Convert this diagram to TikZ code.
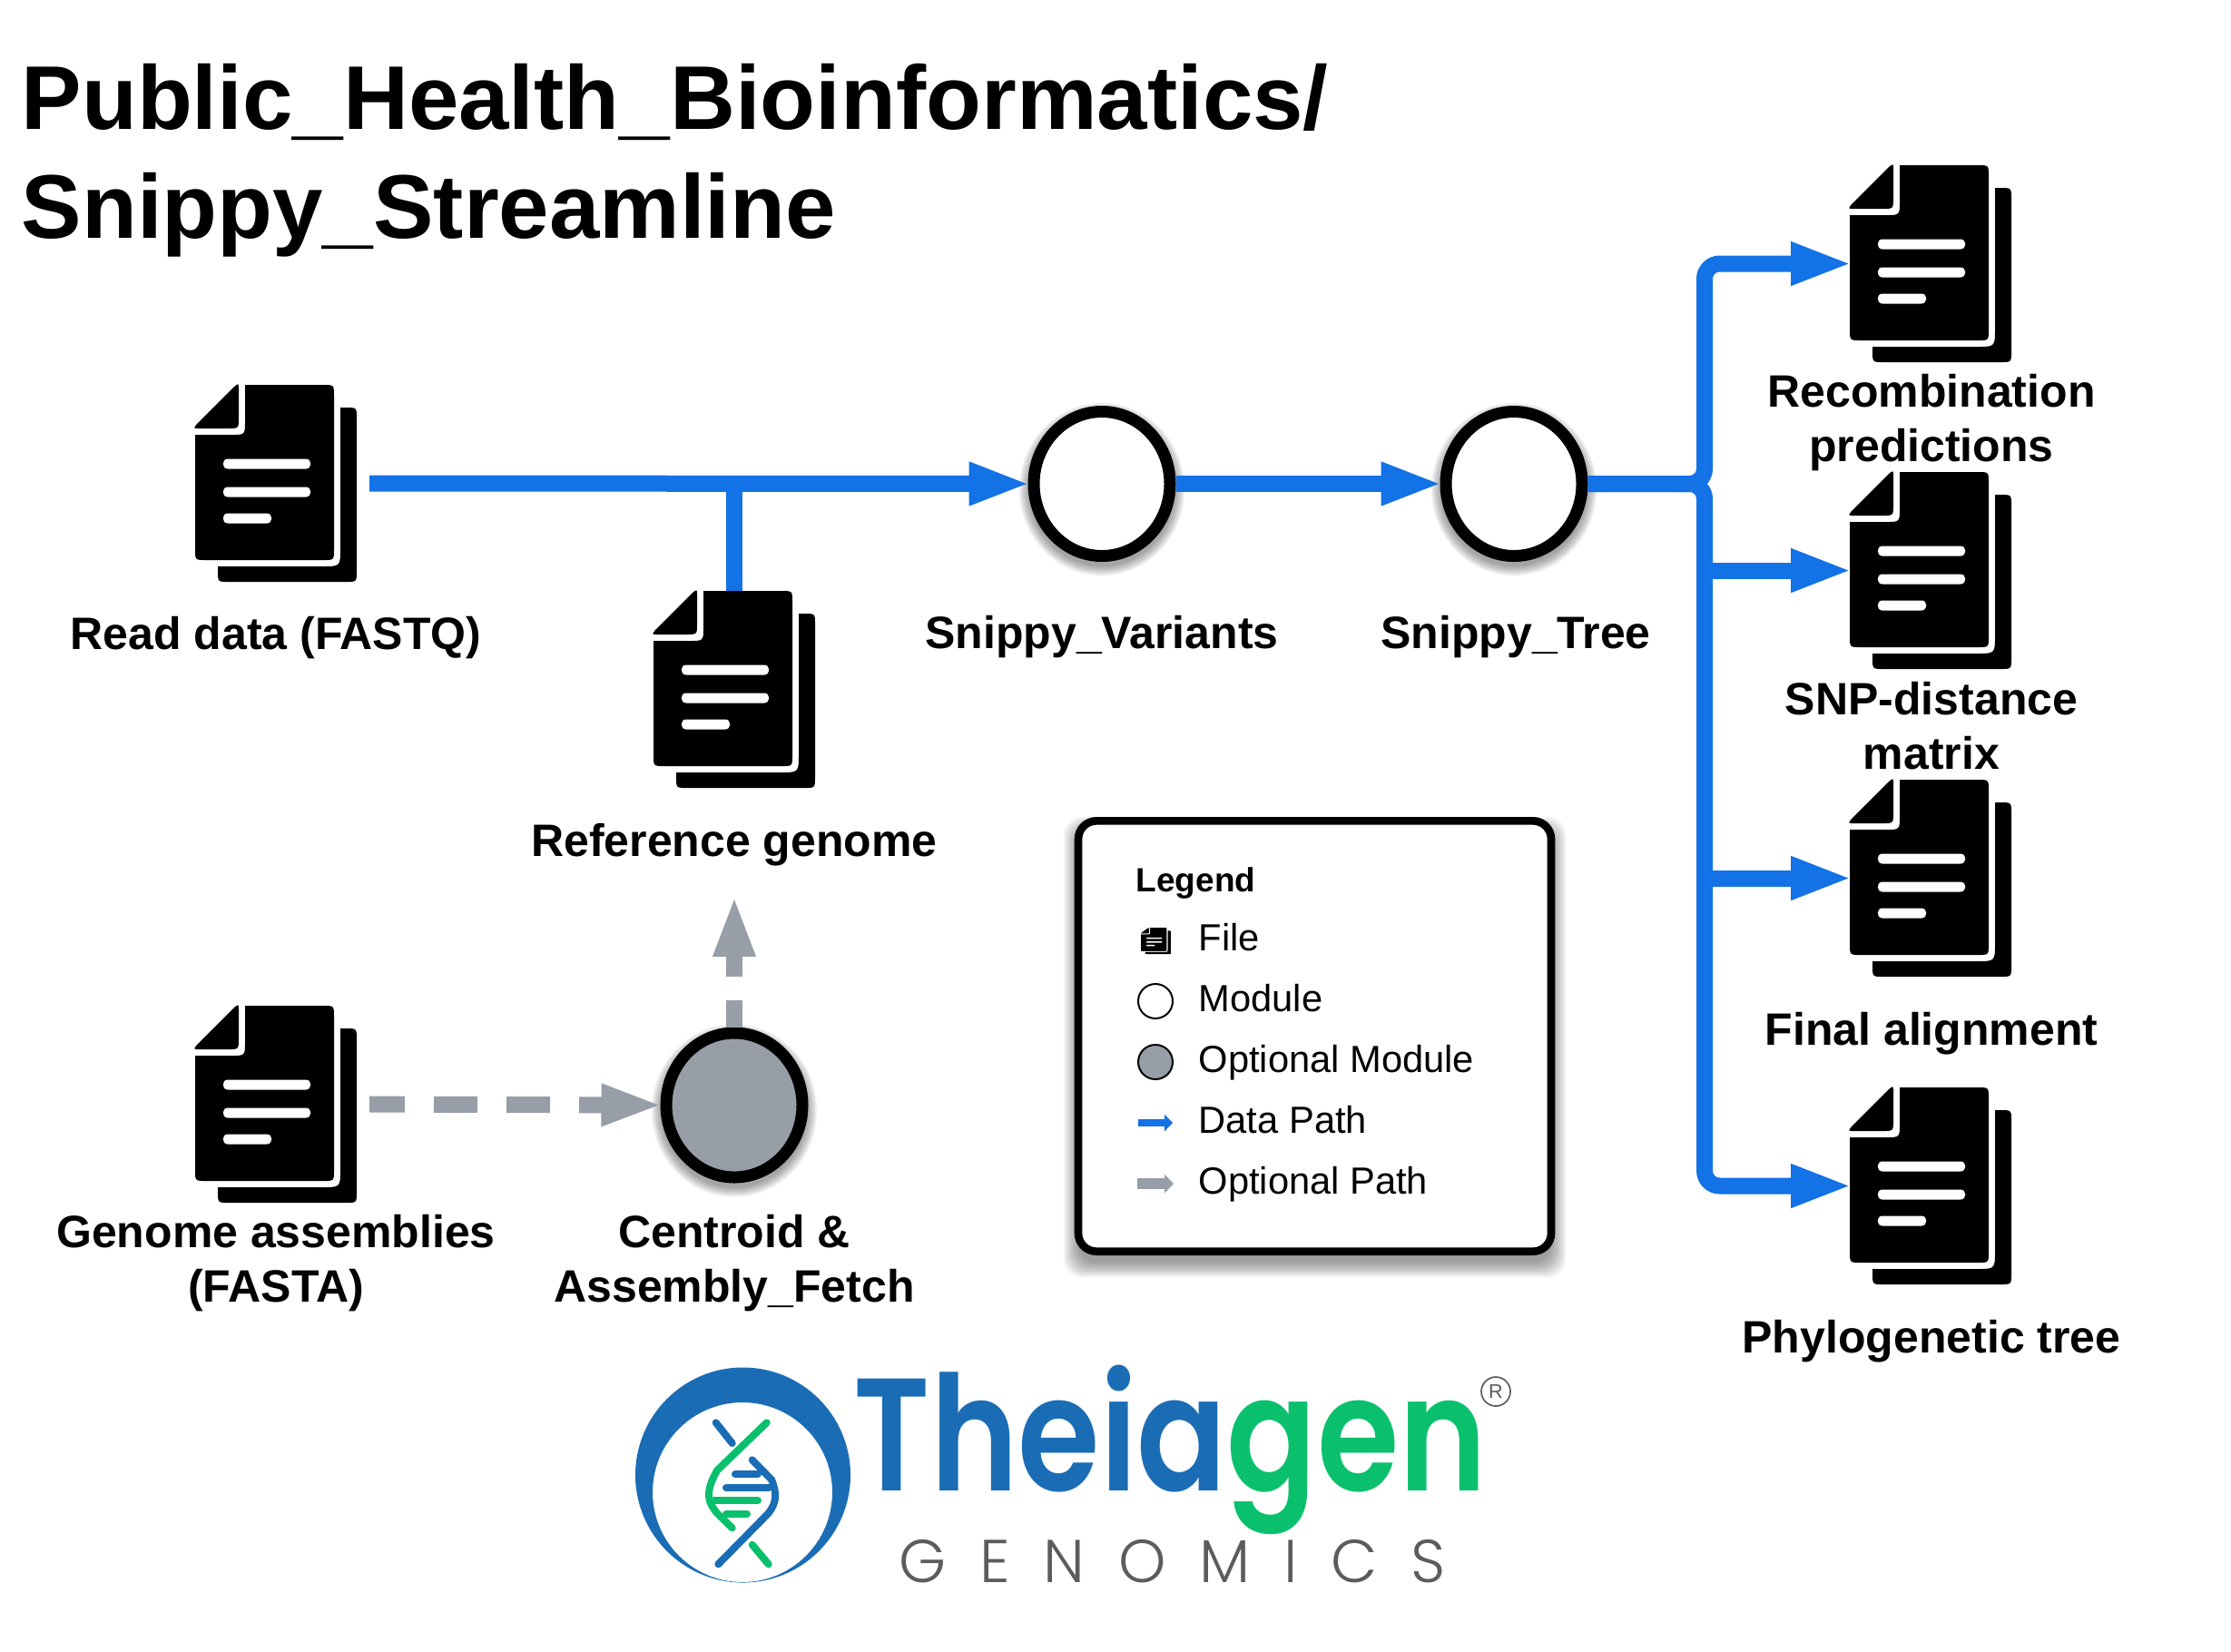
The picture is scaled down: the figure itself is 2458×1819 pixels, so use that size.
\documentclass[tikz,border=0pt]{standalone}
\usepackage{fontspec}
\usepackage{xcolor}
\usetikzlibrary{arrows.meta,shapes.geometric}
\setmainfont{Liberation Sans}
\newfontfamily\logofont[FakeStretch=.828]{Poppins SemiBold}
\newfontfamily\genomicsfont[LetterSpace=55]{Poppins Light}

\definecolor{datablue}{HTML}{1272E6}
\definecolor{optgrey}{HTML}{979EA8}
\definecolor{logoblue}{HTML}{1A6DB5}
\definecolor{logogreen}{HTML}{0BC06D}
\definecolor{logogrey}{HTML}{5C5C5C}

\tikzset{
	filenode/.style={minimum width=53.4pt, minimum height=65.1pt, inner sep=0pt, outer sep=0pt},
	filelabel/.style={font=\fontsize{15}{18}\selectfont\bfseries, align=center, inner sep=0pt},
	legendtext/.style={font=\fontsize{12.5}{15}\selectfont, anchor=base west, inner sep=0pt},
	module/.style={ellipse, draw=black, fill=white, line width=3.9pt, minimum width=45pt, minimum height=47.7pt, inner sep=0pt},
	optmodule/.style={module, fill=optgrey},
	legendmodule/.style={circle, draw=black, fill=white, line width=.6pt, minimum size=11.4pt, inner sep=0pt},
	datapath/.style={draw=datablue, line width=5.4pt, shorten >=-.9pt, -{Triangle[length=20.4pt,width=13pt,fill=datablue]}},
	optpath/.style={draw=optgrey, line width=5.4pt, shorten >=-.9pt, -{Triangle[length=20.4pt,width=12.6pt,fill=optgrey]}},
	helix/.style={line width=2.4pt, line cap=round},
	% the icon is drawn from its top left corner, 178 by 217
	fileicon/.pic={
		\fill[black] (160,25) -- (166,25) .. controls (178,25) .. (178,37) -- (178,205) .. controls (178,217) .. (166,217) -- (37,217) .. controls (25,217) .. (25,205) -- (25,200) -- (140,200) .. controls (160,200) .. (160,180) -- cycle;
		\fill[black] (55,0) -- (141,0) .. controls (153,0) .. (153,12) -- (153,181) .. controls (153,193) .. (141,193) -- (12,193) .. controls (0,193) .. (0,181) -- (0,55) -- (40,55) .. controls (55,55) .. (55,40) -- cycle;
		\fill[black] (43,2) .. controls (48,-2) .. (48,5) -- (48,36) .. controls (48,48) .. (36,48) -- (5,48) .. controls (-2,48) .. (2,43) -- cycle;
		\foreach \ex/\by in {127/87, 127/118, 84/147}
			\fill[white] (36,\by-5.5) -- (\ex-5,\by-5.5) .. controls (\ex+2,\by-5.5) and (\ex+2,\by+5.5) .. (\ex-5,\by+5.5) -- (36,\by+5.5) .. controls (29,\by+5.5) and (29,\by-5.5) .. (36,\by-5.5) -- cycle;
	}
}

\begin{document}
\begin{tikzpicture}[x=.3pt, y=-.3pt]
	\useasboundingbox (0,0) rectangle (2458,1819);

	% title
	\node[anchor=west, align=left, inner sep=0pt, font=\fontsize{29.9}{36}\selectfont\bfseries] (title) at (23,177) {Public\_Health\_Bioinformatics/\\Snippy\_Streamline};

	% soft shadows under the modules and the legend
	\foreach \x/\y in {1214/533, 1668/533, 809/1217.5}
		\foreach \r in {10,8,6,4,2,0}
			\fill[black, opacity=.07] (\x,\y+6) ellipse ({81+\r} and {85+\r});
	\foreach \d in {12,10,8,6,4,2,0,-2,-4}
		\fill[black, opacity=.05, rounded corners=6pt] (1184-\d,900-\d+12) rectangle (1713+\d,1383+\d+12);

	% files
	\node[filenode] (reads) at (304,532.5) {};
	\node[filenode] (refgenome) at (809,759.5) {};
	\node[filenode] (assemblies) at (304,1216.5) {};
	\node[filenode] (recomb) at (2127,290.5) {};
	\node[filenode] (snpdist) at (2127,628.5) {};
	\node[filenode] (alignment) at (2127,967.5) {};
	\node[filenode] (phylotree) at (2127,1306.5) {};
	\pic at (215,424) {fileicon};
	\pic at (720,651) {fileicon};
	\pic at (215,1108) {fileicon};
	\pic at (2038,182) {fileicon};
	\pic at (2038,520) {fileicon};
	\pic at (2038,859) {fileicon};
	\pic at (2038,1198) {fileicon};

	% modules
	\node[module] (variants) at (1214,533) {};
	\node[module] (tree) at (1668,533) {};
	\node[optmodule] (centroid) at (809,1217.5) {};

	% paths
	\coordinate (trunk) at (1878,533);
	\coordinate (refjoin) at (809,533);
	\draw[datapath, shorten <=4.2pt] (reads.east) -- (variants.west);
	\draw[datapath] (variants.east) -- (tree.west);
	\draw[draw=datablue, line width=5.4pt] (refgenome.north) -- (refjoin);
	\draw[datapath, rounded corners=5pt] (tree.east) -- (trunk) |- (recomb.west);
	\draw[datapath, rounded corners=5pt] (tree.east) -- (trunk) |- (phylotree.west);
	\draw[datapath] (trunk |- snpdist) -- (snpdist.west);
	\draw[datapath] (trunk |- alignment) -- (alignment.west);
	\draw[optpath, shorten <=4.2pt, dash pattern=on 14.4pt off 9.6pt, dash phase=2.7pt] (assemblies.east) -- (centroid.west);
	\coordinate (centroidup) at (809,989);
	\draw[optpath, dash pattern=on 14.4pt off 7.8pt, dash phase=5.4pt] (centroid.north) -- (centroidup);

	% labels
	\node[filelabel] (readslabel) at (304,703) {Read data (FASTQ)};
	\node[filelabel] (refgenomelabel) at (809,931) {Reference genome};
	\node[filelabel] (variantslabel) at (1214,702) {Snippy\_Variants};
	\node[filelabel] (treelabel) at (1670,702) {Snippy\_Tree};
	\node[filelabel] (assemblieslabel) at (304,1392) {Genome assemblies\\(FASTA)};
	\node[filelabel] (centroidlabel) at (809,1392) {Centroid \&\\Assembly\_Fetch};
	\node[filelabel] (recomblabel) at (2128,466) {Recombination\\predictions};
	\node[filelabel] (snpdistlabel) at (2128,800) {SNP-distance\\matrix};
	\node[filelabel] (alignmentlabel) at (2128,1139) {Final alignment};
	\node[filelabel] (phylotreelabel) at (2128,1478) {Phylogenetic tree};

	% legend
	\node[draw=black, fill=white, line width=2.6pt, rounded corners=6pt, minimum width=156.3pt, minimum height=142.3pt, inner sep=0pt] (legendbox) at (1448.5,1141.5) {};
	\node[legendtext, font=\fontsize{11.1}{14}\selectfont\bfseries] (legendtitle) at (1251,982) {Legend};
	\pic[xscale=.185, yscale=.134] at (1257,1022) {fileicon};
	\node[legendtext] (legendfile) at (1320,1047) {File};
	\node[legendmodule] (legendcircle) at (1273,1103) {};
	\node[legendtext] (legendmod) at (1320,1114) {Module};
	\node[legendmodule, fill=optgrey] (legendopt) at (1273,1170) {};
	\node[legendtext] (legendoptmod) at (1320,1181) {Optional Module};
	\coordinate (datafrom) at (1254,1237);
	\coordinate (datato) at (1292,1237);
	\draw[draw=datablue, line width=2.4pt, -{Triangle[length=2.7pt,width=5.4pt,fill=datablue]}] (datafrom) -- (datato);
	\node[legendtext] (legenddata) at (1320,1248) {Data Path};
	\coordinate (optfrom) at (1253,1304);
	\coordinate (optto) at (1293,1304);
	\draw[draw=optgrey, line width=3.6pt, -{Triangle[length=3pt,width=6pt,fill=optgrey]}] (optfrom) -- (optto);
	\node[legendtext] (legendoptpath) at (1320,1315) {Optional Path};

	% logo
	\fill[logoblue, even odd rule] (818.5,1625) circle (118.5) (818,1644) circle (99);
	\draw[helix, logogreen] (844.7,1567.3) -- (790,1620) .. controls (776,1645) and (780,1655) .. (790,1667) -- (806.7,1683.3);
	\draw[helix, logoblue] (828.7,1608.3) -- (850,1630) .. controls (856,1645) and (856,1655) .. (846.7,1667) -- (791.3,1723.3);
	\draw[helix, logoblue] (788.7,1567.3) -- (806.7,1590);
	\draw[helix, logogreen] (828.7,1701.7) -- (846.7,1723.3);
	\draw[helix, logoblue] (810,1624) -- (835,1624);
	\draw[helix, logoblue] (800,1639) -- (847,1639);
	\draw[helix, logogreen] (787,1653) -- (835,1653);
	\draw[helix, logogreen] (800,1668) -- (823,1668);
	\node[anchor=base west, inner sep=0pt, font=\fontsize{53}{60}\selectfont\logofont] (logoname) at (940,1642) {\textcolor{logoblue}{Theia}\textcolor{logogreen}{gen}};
	\node[anchor=base west, inner sep=0pt, text=logogrey, font=\fontsize{20}{24}\selectfont\genomicsfont] (logosub) at (990,1743) {GENOMICS};
	\node[circle, draw=logogrey, line width=.5pt, minimum size=9.6pt, inner sep=0pt, text=logogrey, font=\fontsize{6.5}{7}\selectfont] (logoreg) at (1648,1533) {R};
\end{tikzpicture}
\end{document}
